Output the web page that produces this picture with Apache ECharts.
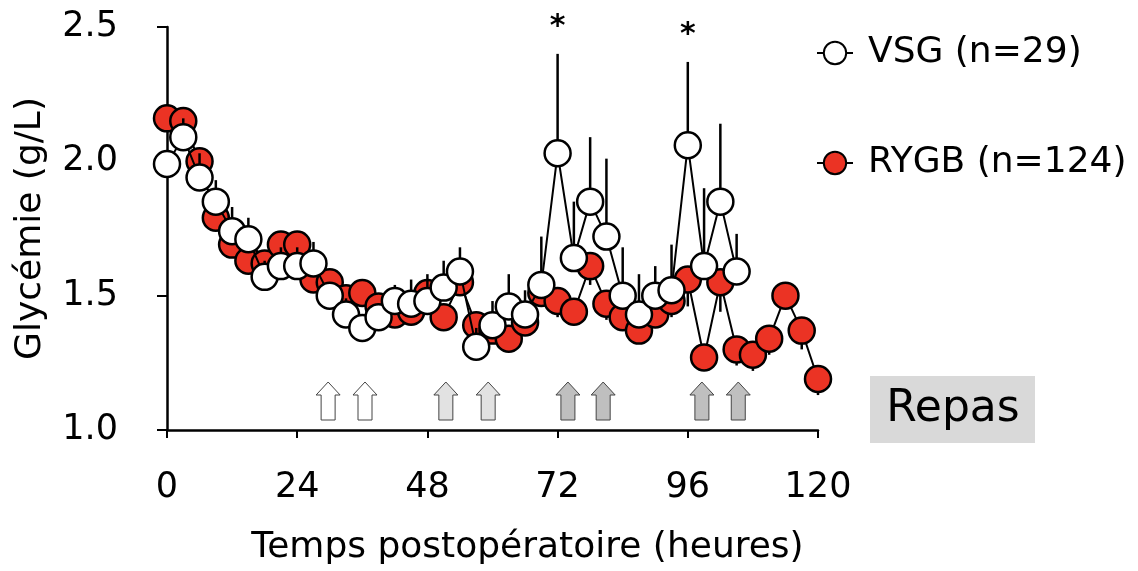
<!DOCTYPE html>
<html><head><meta charset="utf-8">
<script src="https://cdn.jsdelivr.net/npm/echarts@6/dist/echarts.min.js"></script>
<style>html,body{margin:0;padding:0;background:#fff}#c{width:1138px;height:571px}</style>
</head><body><div id="c"></div>
<script>
// ---- data ----
const hoursRYGB = [0,3,6,9,12,15,18,21,24,27,30,33,36,39,42,45,48,51,54,57,60,63,66,69,72,75,78,81,84,87,90,93,96,99,102,105,108,111,114,117,120];
const rygbMean = [2.16,2.15,2.00,1.79,1.69,1.63,1.62,1.69,1.69,1.56,1.55,1.49,1.51,1.46,1.43,1.44,1.51,1.42,1.55,1.39,1.37,1.34,1.40,1.51,1.48,1.44,1.61,1.47,1.42,1.37,1.43,1.48,1.56,1.27,1.55,1.30,1.28,1.34,1.50,1.37,1.19];
const rygbSem  = [0.03,0.03,0.03,0.03,0.03,0.03,0.03,0.03,0.03,0.03,0.03,0.03,0.03,0.03,0.03,0.03,0.03,0.03,0.03,0.03,0.03,0.03,0.04,0.05,0.06,0.05,0.07,0.06,0.05,0.05,0.05,0.06,0.10,0.03,0.11,0.06,0.06,0.06,0.05,0.07,0.06];
const hoursVSG = [0,3,6,9,12,15,18,21,24,27,30,33,36,39,42,45,48,51,54,57,60,63,66,69,72,75,78,81,84,87,90,93,96,99,102,105];
const vsgMean = [1.99,2.09,1.94,1.85,1.74,1.71,1.57,1.61,1.61,1.62,1.50,1.43,1.38,1.42,1.48,1.47,1.48,1.53,1.59,1.31,1.39,1.46,1.43,1.54,2.03,1.64,1.85,1.72,1.50,1.43,1.50,1.52,2.06,1.61,1.85,1.59];
const vsgSem  = [0.03,0.07,0.09,0.08,0.09,0.08,0.06,0.07,0.07,0.08,0.05,0.06,0.05,0.05,0.06,0.09,0.10,0.10,0.09,0.07,0.09,0.12,0.09,0.18,0.37,0.21,0.24,0.29,0.18,0.15,0.11,0.17,0.31,0.29,0.29,0.14];
const mealHours = [29.7,36.5,51.4,59.2,73.9,80.4,98.6,105.3];
const mealKind  = [0,0,1,1,2,2,2,2];
const sigHours = [72,96];
const vsgName = 'VSG (n=29)';
const rygbName = 'RYGB (n=124)';
const mealLabel = 'Repas';
const xTitle = 'Temps postopératoire (heures)';
const yTitle = 'Glycémie (g/L)';

// ---- styles ----
const RED = '#EB3324';
const FONT = 'DejaVu Sans';
const mealFills = ['#ffffff','#e2e2e2','#bfbfbf'];

const rygbData = hoursRYGB.map((h,i)=>[h, rygbMean[i], rygbSem[i]]);
const vsgData = hoursVSG.map((h,i)=>[h, vsgMean[i], vsgSem[i]]);
const sigData = sigHours.map(h=>{const i = hoursVSG.indexOf(h); return [h, vsgMean[i]+vsgSem[i]];});
const mealData = mealHours.map((h,i)=>[h, 1.0, mealKind[i]]);

function errRender(dir){
  return function(params, api){
    const x = api.value(0), m = api.value(1), s = api.value(2);
    const p0 = api.coord([x, m]), p1 = api.coord([x, m + dir*s]);
    return {type:'line', shape:{x1:p0[0],y1:p0[1],x2:p1[0],y2:p1[1]}, style:{stroke:'#000', lineWidth:2.5}};
  };
}

const chart = echarts.init(document.getElementById('c'), null, {renderer:'canvas'});
chart.setOption({
  animation:false,
  backgroundColor:'#fff',
  textStyle:{fontFamily:FONT, color:'#000'},
  grid:{left:167, right:320, top:27, bottom:138, containLabel:false},
  xAxis:{type:'value', min:0, max:120, interval:24,
    axisLine:{lineStyle:{color:'#000', width:2.5}},
    axisTick:{show:true, length:8, lineStyle:{color:'#000', width:2}},
    axisLabel:{fontSize:35, fontFamily:FONT, color:'#000', margin:40},
    splitLine:{show:false},
    name:xTitle, nameLocation:'middle', nameGap:100,
    nameTextStyle:{fontSize:36, fontFamily:FONT, color:'#000', padding:[0,0,0,70]}},
  yAxis:{type:'value', min:1.0, max:2.5, interval:0.5,
    axisLine:{show:true, lineStyle:{color:'#000', width:2.5}},
    axisTick:{show:true, length:10, lineStyle:{color:'#000', width:2}},
    axisLabel:{fontSize:35, fontFamily:FONT, color:'#000', margin:49, formatter:v=>v.toFixed(1)},
    splitLine:{show:false},
    name:yTitle, nameLocation:'middle', nameGap:118, nameRotate:90,
    nameTextStyle:{fontSize:36, fontFamily:FONT, color:'#000'}},
  legend:{orient:'vertical', left:811, top:30, itemWidth:36, itemHeight:28, itemGap:74,
    textStyle:{fontSize:36, fontFamily:FONT, color:'#000', padding:[0,0,0,10]},
    data:[vsgName, rygbName]},
  graphic:[
    {type:'rect', x:870, y:376, shape:{x:0, y:0, width:165, height:67}, style:{fill:'#d9d9d9'}},
    {type:'text', x:953, y:410, style:{text:mealLabel, font:'44px "DejaVu Sans"', fill:'#000', align:'center', verticalAlign:'middle'}}
  ],
  series:[
    {type:'custom', name:'rygbErr', data:rygbData, encode:{x:0,y:1}, z:1, renderItem:errRender(-1), silent:true},
    {type:'line', name:rygbName, data:rygbData.map(d=>[d[0],d[1]]), z:2,
      symbol:'circle', symbolSize:26, showAllSymbol:true,
      lineStyle:{color:'#000', width:2},
      itemStyle:{color:RED, borderColor:'#000', borderWidth:2.5}},
    {type:'custom', name:'vsgErr', data:vsgData, encode:{x:0,y:1}, z:3, renderItem:errRender(1), silent:true},
    {type:'line', name:vsgName, data:vsgData.map(d=>[d[0],d[1]]), z:4,
      symbol:'circle', symbolSize:26, showAllSymbol:true,
      lineStyle:{color:'#000', width:2},
      itemStyle:{color:'#fff', borderColor:'#000', borderWidth:2.5}},
    {type:'custom', name:'meals', data:mealData, encode:{x:0,y:1}, z:5, clip:false, silent:true,
      renderItem:function(params, api){
        const p = api.coord([api.value(0), api.value(1)]);
        const cx = p[0], yb = p[1]-10, yt = p[1]-48;
        return {type:'polygon', shape:{points:[[cx-7,yb],[cx+7,yb],[cx+7,yt+13],[cx+12,yt+13],[cx,yt],[cx-12,yt+13],[cx-7,yt+13]]},
          style:{fill:mealFills[api.value(2)], stroke:'#444', lineWidth:1}};
      }},
    {type:'custom', name:'sig', data:sigData, encode:{x:0,y:1}, z:6, clip:false, silent:true,
      renderItem:function(params, api){
        const p = api.coord([api.value(0), api.value(1)]);
        return {type:'text', style:{text:'*', x:p[0], y:p[1]-27, align:'center', verticalAlign:'middle', font:'bold 30px "DejaVu Sans"', fill:'#000'}};
      }}
  ]
});
</script>
</body></html>
